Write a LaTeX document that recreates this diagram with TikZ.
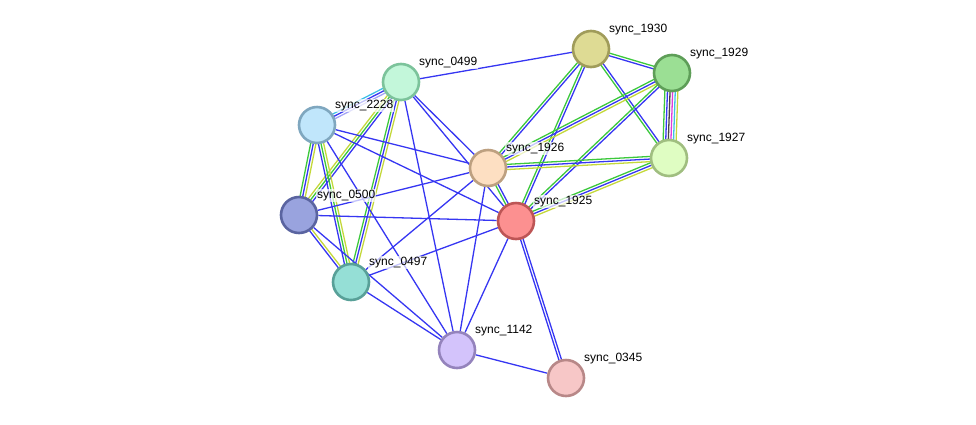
\documentclass[tikz,border=0pt]{standalone}
\usepackage{fontspec}
\setmainfont{Liberation Sans}
\usetikzlibrary{calc}
\pgfdeclarelayer{bg}
\pgfsetlayers{bg,main}
\definecolor{eblue}{HTML}{3636F2}
\definecolor{egreen}{HTML}{3CC83C}
\definecolor{eyellow}{HTML}{C4D83A}
\definecolor{ecyan}{HTML}{3FC0E6}
\definecolor{elav}{HTML}{A4A4F5}
\definecolor{eblack}{HTML}{444444}
\definecolor{emag}{HTML}{E03CD8}
\tikzset{
  prot/.style={circle, minimum size=36pt, inner sep=0pt, line width=2.6pt},
  lbl/.style={anchor=west, font=\fontsize{12}{14}\selectfont, inner sep=1pt, fill=white, fill opacity=0.7, text opacity=1},
  edg/.style={line width=1.3pt}
}
\newcommand\lnk[3]{\foreach \cc/\oo in {#3}{\draw[edg,\cc] ($(#1)!\oo pt!90:(#2)$) -- ($(#2)!\oo pt!-90:(#1)$);}}
\begin{document}
\begin{tikzpicture}[x=1pt,y=-1pt]
\useasboundingbox (0,0) rectangle (976,424);
\node[prot, fill={rgb,255:red,222;green,219;blue,148}, draw={rgb,255:red,160;green,156;blue,90}] (n1930) at (591,49) {};
\node[prot, fill={rgb,255:red,155;green,223;blue,148}, draw={rgb,255:red,94;green,158;blue,88}] (n1929) at (672,73) {};
\node[prot, fill={rgb,255:red,195;green,247;blue,218}, draw={rgb,255:red,124;green,195;blue,155}] (n0499) at (401,82) {};
\node[prot, fill={rgb,255:red,192;green,230;blue,251}, draw={rgb,255:red,127;green,167;blue,191}] (n2228) at (317,125) {};
\node[prot, fill={rgb,255:red,223;green,253;blue,194}, draw={rgb,255:red,160;green,190;blue,128}] (n1927) at (669,158) {};
\node[prot, fill={rgb,255:red,253;green,223;blue,194}, draw={rgb,255:red,189;green,160;blue,128}] (n1926) at (488,168) {};
\node[prot, fill={rgb,255:red,153;green,163;blue,222}, draw={rgb,255:red,90;green,100;blue,160}] (n0500) at (299,215) {};
\node[prot, fill={rgb,255:red,252;green,144;blue,144}, draw={rgb,255:red,189;green,85;blue,85}] (n1925) at (516,221) {};
\node[prot, fill={rgb,255:red,149;green,223;blue,214}, draw={rgb,255:red,88;green,160;blue,152}] (n0497) at (351,282) {};
\node[prot, fill={rgb,255:red,211;green,195;blue,251}, draw={rgb,255:red,148;green,131;blue,188}] (n1142) at (457,350) {};
\node[prot, fill={rgb,255:red,247;green,199;blue,199}, draw={rgb,255:red,184;green,136;blue,136}] (n0345) at (566,378) {};
\begin{pgfonlayer}{bg}
\lnk{n0499}{n2228}{ecyan/-2.6,eblue/0,elav/2.6}
\lnk{n0499}{n0500}{eyellow/-2.6,egreen/0,eblue/2.6}
\lnk{n0499}{n0497}{egreen/-2.6,eblue/0,eyellow/2.6}
\lnk{n2228}{n0500}{egreen/-2.6,eblue/0,eyellow/2.6}
\lnk{n2228}{n0497}{eblue/-2.6,egreen/0,eyellow/2.6}
\lnk{n0500}{n0497}{eblue/-1.3,eyellow/1.3}
\lnk{n1926}{n1925}{egreen/-1.3,eblue/1.3}
\lnk{n1930}{n1929}{eblue/-1.3,egreen/1.3}
\lnk{n1930}{n1927}{egreen/-1.3,eblue/1.3}
\lnk{n1930}{n1926}{egreen/-1.3,eblue/1.3}
\lnk{n1930}{n1925}{egreen/-1.3,eblue/1.3}
\lnk{n1929}{n1926}{egreen/-2.6,eblue/0,eyellow/2.6}
\lnk{n1929}{n1925}{egreen/-1.3,eblue/1.3}
\lnk{n1929}{n1927}{egreen/-6.5,eblue/-3.9,eblack/-1.3,emag/1.3,ecyan/3.9,eyellow/6.5}
\lnk{n1927}{n1926}{egreen/-2.6,eblue/0,eyellow/2.6}
\lnk{n1927}{n1925}{egreen/-2.6,eblue/0,eyellow/2.6}
\lnk{n1925}{n0345}{eblue/-1.3,eblue/1.3}
\foreach \a/\b in {n0499/n1930,n0499/n1926,n0499/n1925,n0499/n1142,n2228/n1926,n2228/n1925,n2228/n1142,n0500/n1926,n0500/n1925,n0500/n1142,n0497/n1926,n0497/n1925,n0497/n1142,n1926/n1142,n1925/n1142,n1142/n0345}
  {\draw[edg,eblue] (\a) -- (\b);}
\end{pgfonlayer}
\foreach \n/\t in {n1930/sync\_1930,n1929/sync\_1929,n0499/sync\_0499,n2228/sync\_2228,n1927/sync\_1927,n1926/sync\_1926,n0500/sync\_0500,n1925/sync\_1925,n0497/sync\_0497,n1142/sync\_1142,n0345/sync\_0345}
  {\node[lbl] (l\n) at ($(\n)+(17,-19.5)$) {\t};}
\end{tikzpicture}
\end{document}
